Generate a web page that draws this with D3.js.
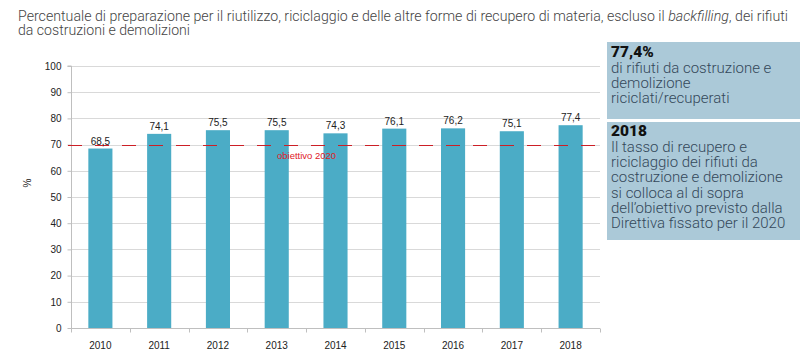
<!DOCTYPE html>
<html><head><meta charset="utf-8">
<script src="https://cdn.jsdelivr.net/npm/d3@7"></script>
<style>
body{margin:0;background:#fff;}
svg{display:block;}
</style></head>
<body><svg id="c" width="800" height="360"></svg>
<script>
const years = ["2010","2011","2012","2013","2014","2015","2016","2017","2018"];
const values = [68.5,74.1,75.5,75.5,74.3,76.1,76.2,75.1,77.4];
const yTicks = [0,10,20,30,40,50,60,70,80,90,100];
const target = 70;
const targetLabel = "obiettivo 2020";
const titleLines = ["Percentuale di preparazione per il riutilizzo, riciclaggio e delle altre forme di recupero di materia, escluso il ", "da costruzioni e demolizioni"];
const box1 = {head:"77,4%", lines:["di rifiuti da costruzione e","demolizione","riciclati/recuperati"]};
const box2 = {head:"2018", lines:["Il tasso di recupero e","riciclaggio dei rifiuti da","costruzione e demolizione","si colloca al di sopra","dell\u2019obiettivo previsto dalla","Direttiva fissato per il 2020"]};

(function(){
const svg = d3.select("#c");
const L=71, R=600, T=66, B=328;
const x = d3.scaleBand().domain(years).range([L,R]).paddingInner(0.59).paddingOuter(0.295);
const xb = d3.scaleBand().domain(years).range([L,R]);
const y = d3.scaleLinear().domain([0,100]).range([B,T]);

// title
const t = svg.append("text").attr("x",18).attr("y",21).attr("font-family","Roboto").attr("font-weight",300)
 .attr("font-size",15).attr("fill","#444").attr("textLength",770).attr("lengthAdjust","spacingAndGlyphs");
t.append("tspan").text(titleLines[0]);
t.append("tspan").attr("font-style","italic").text("backfilling");
t.append("tspan").text(", dei rifiuti");
svg.append("text").attr("x",18).attr("y",35).attr("font-family","Roboto").attr("font-weight",300).attr("font-size",15)
 .attr("fill","#444").attr("textLength",172).attr("lengthAdjust","spacingAndGlyphs").text(titleLines[1]);

// grid
svg.append("g").selectAll("line").data(yTicks.filter(d=>d>0)).join("line")
 .attr("x1",L).attr("x2",R).attr("y1",d=>Math.round(y(d))+0.5).attr("y2",d=>Math.round(y(d))+0.5)
 .attr("stroke","#d9d9d9").attr("stroke-width",1);

// y axis
const ya = svg.append("g").attr("transform",`translate(${L+0.5},0)`)
 .call(d3.axisLeft(y).tickValues(yTicks).tickSize(4).tickFormat(d3.format("d")));
ya.select(".domain").attr("stroke","#bfbfbf").attr("d",`M-4,${T}H0V${B}`);
ya.selectAll(".tick line").attr("stroke","#bfbfbf");
ya.selectAll("text").attr("font-family","Liberation Sans").attr("font-size",10).attr("fill","#222").attr("x",-10);

// x axis
const xa = svg.append("g").attr("transform",`translate(0,${B+0.5})`);
xa.append("line").attr("x1",L).attr("x2",R).attr("stroke","#bfbfbf");
xa.selectAll("line.tk").data(years).join("line").attr("class","tk")
 .attr("x1",d=>Math.round(xb(d)+xb.bandwidth())+0.5).attr("x2",d=>Math.round(xb(d)+xb.bandwidth())+0.5)
 .attr("y1",0).attr("y2",4).attr("stroke","#bfbfbf");
xa.append("line").attr("x1",L+0.5).attr("x2",L+0.5).attr("y1",0).attr("y2",4).attr("stroke","#bfbfbf");
xa.selectAll("text").data(years).join("text").attr("x",d=>xb(d)+xb.bandwidth()/2).attr("y",20)
 .attr("text-anchor","middle").attr("font-family","Liberation Sans").attr("font-size",10).attr("fill","#222").text(d=>d);

// % label
svg.append("text").attr("transform",`translate(31,183) rotate(-90)`).attr("text-anchor","middle")
 .attr("font-family","Liberation Sans").attr("font-size",10).attr("fill","#222").text("%");

// bars
svg.append("g").selectAll("rect").data(values).join("rect")
 .attr("x",(d,i)=>x(years[i])).attr("width",x.bandwidth())
 .attr("y",d=>y(d)).attr("height",d=>y(0)-y(d)).attr("fill","#4bacc6");

// target line
svg.append("line").attr("x1",L-3).attr("x2",R).attr("y1",Math.round(y(target))+0.5).attr("y2",Math.round(y(target))+0.5)
 .attr("stroke","#cc1f26").attr("stroke-width",1).attr("stroke-dasharray","14,13");
svg.append("text").attr("x",277).attr("y",y(target)+14).attr("font-family","Liberation Sans")
 .attr("font-size",9.5).attr("fill","#e0201f").text(targetLabel);

// value labels
svg.append("g").selectAll("text").data(values).join("text")
 .attr("x",(d,i)=>x(years[i])+x.bandwidth()/2).attr("y",d=>y(d)-4)
 .attr("text-anchor","middle").attr("font-family","Liberation Sans").attr("font-size",10).attr("fill","#222")
 .text(d=>d3.format(".1f")(d).replace(".",","));

// boxes
function box(b, y0, h, hy, ly, sp){
  svg.append("rect").attr("x",607).attr("y",y0).attr("width",193).attr("height",h).attr("fill","#abc9d8");
  svg.append("text").attr("x",611).attr("y",hy).attr("font-family","Roboto").attr("font-weight",900).attr("font-size",15.5).attr("fill","#111").text(b.head);
  svg.append("g").selectAll("text").data(b.lines).join("text").attr("x",611).attr("y",(d,i)=>ly+i*sp)
    .attr("font-family","Roboto").attr("font-weight",300).attr("font-size",15).attr("fill","#34485a").text(d=>d);
}
box(box1, 42, 77, 57, 73, 15);
box(box2, 122, 118, 136, 152, 15.2);
})();
</script></body></html>
